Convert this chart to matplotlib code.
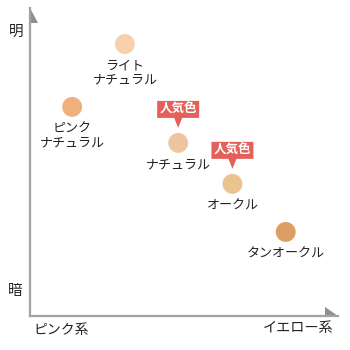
import matplotlib
matplotlib.use("Agg")
import matplotlib.pyplot as plt
from matplotlib.patches import Polygon
from matplotlib.transforms import ScaledTranslation

plt.rcParams['font.family'] = ['Noto Sans CJK JP', 'DejaVu Sans']

# data: x = yellowness (0 pink .. 10 yellow), y = brightness (0 dark .. 10 bright)
names = ["ライト\nナチュラル", "ピンク\nナチュラル", "ナチュラル", "オークル", "タンオークル"]
yellowness = [3.06, 1.36, 4.78, 6.53, 8.25]
brightness = [8.83, 6.79, 5.62, 4.29, 2.73]
colors = ["#F6D1AC", "#EFB07C", "#EDC6A0", "#EAC390", "#DC9E63"]
popular = [False, False, True, True, False]
tag_text = "人気色"
axis_top, axis_bottom = "明", "暗"
axis_left, axis_right = "ピンク系", "イエロー系"

W = H = 350
fig = plt.figure(figsize=(3.5, 3.5), dpi=100)
# axes in pixel space: x 30..338, y 8..316 (from top)
ax = fig.add_axes([30 / W, (H - 316) / H, 308 / W, 308 / H])
ax.set_xlim(0, 308 / 31.0)
ax.set_ylim(0, 308 / 30.8)
ax.patch.set_alpha(0)
for s in ["top", "right"]:
    ax.spines[s].set_visible(False)
axis_col = "#A3A3A3"
for s in ["left", "bottom"]:
    ax.spines[s].set_color(axis_col)
    ax.spines[s].set_linewidth(1.6)
ax.set_xticks([])
ax.set_yticks([])

# arrowheads (axes fraction)
ax.add_patch(Polygon([(0, 1), (0, 1 - 15 / 308), (8 / 308, 1 - 15 / 308)],
                     closed=True, transform=ax.transAxes, fc="#8E8E8E", ec="none", clip_on=False))
ax.add_patch(Polygon([(1 - 13 / 308, 0), (1, 0), (1 - 13 / 308, 9 / 308)],
                     closed=True, transform=ax.transAxes, fc="#8E8E8E", ec="none", clip_on=False))

ax.scatter(yellowness, brightness, s=205, c=colors, edgecolors="none", zorder=3)

def px_trans(x, y):
    return fig.dpi_scale_trans + ScaledTranslation(x, y, ax.transData)

tag_col = "#E3605B"
for x, y, name, pop in zip(yellowness, brightness, names, popular):
    t = px_trans(x, y)
    ax.text(0, -0.155, name, transform=t, ha="center", va="top", fontsize=9.4,
            color="#222222", linespacing=1.1)
    if pop:
        pts = [(-21, 25), (-4, 25), (0, 15), (4, 25), (21, 25), (21, 42), (-21, 42)]
        ax.add_patch(Polygon([(a / 100, b / 100) for a, b in pts], closed=True,
                             transform=t, fc=tag_col, ec="none", zorder=4, clip_on=False))
        ax.text(0, 0.335, tag_text, transform=t, ha="center", va="center", fontsize=9,
                color="white", fontweight="bold", zorder=5)

fig.text(16 / W, 1 - 32 / H, axis_top, ha="center", va="center", fontsize=10.5, color="#222222")
fig.text(15 / W, 1 - 291 / H, axis_bottom, ha="center", va="center", fontsize=10.5, color="#222222")
fig.text(61 / W, 1 - 330 / H, axis_left, ha="center", va="center", fontsize=10, color="#222222")
fig.text(298 / W, 1 - 328 / H, axis_right, ha="center", va="center", fontsize=10.2, color="#222222")

fig.savefig("out.png", dpi=100, facecolor="white")
